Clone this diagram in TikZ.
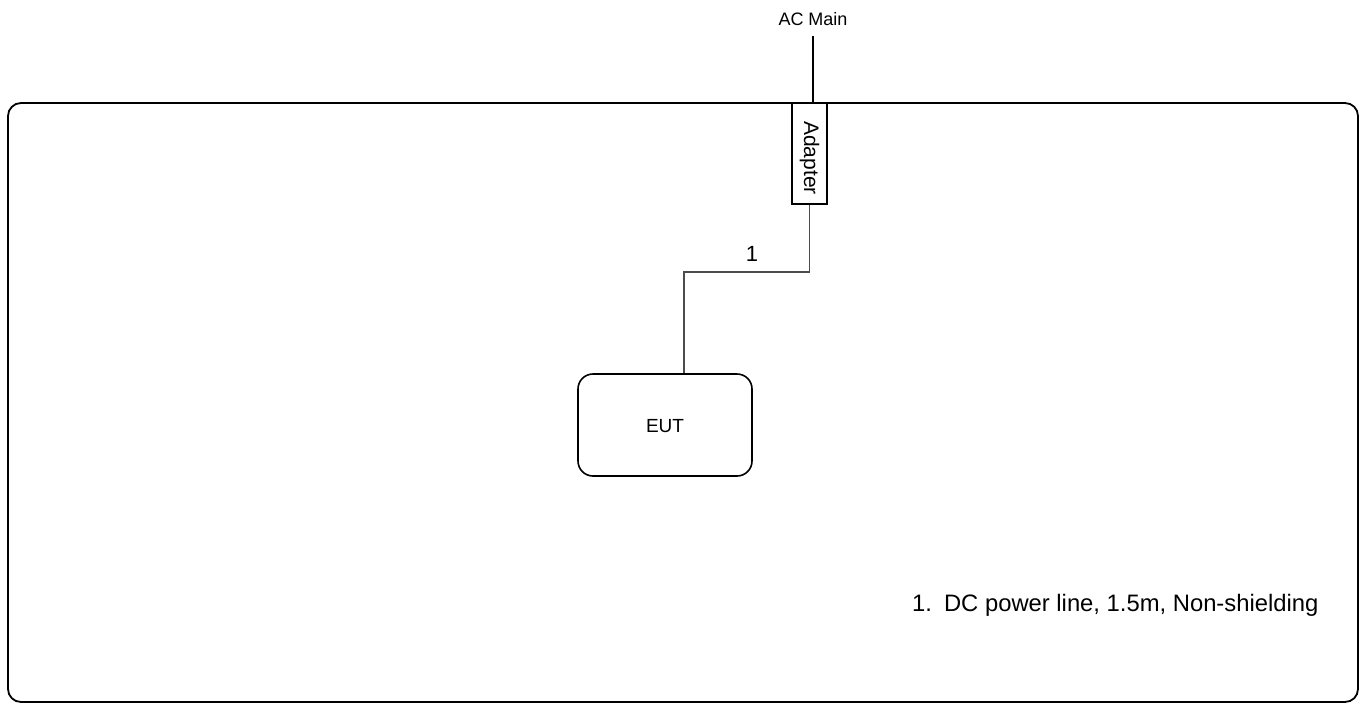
\documentclass[tikz,border=0pt]{standalone}
\usepackage{fontspec}
\setmainfont{Liberation Sans}
\begin{document}
\begin{tikzpicture}[x=1pt,y=-1pt,
  frame/.style={draw=black,line width=1.8pt,rounded corners=13pt},
  boxnode/.style={draw=black,line width=1.6pt,inner sep=0pt},
  eutbox/.style={draw=black,line width=1.6pt,rounded corners=15pt,inner sep=0pt,minimum width=174pt,minimum height=102pt},
  cable/.style={draw=black!70,line width=1.2pt},
  mainline/.style={draw=black,line width=1.8pt},
  lbl/.style={inner sep=0pt}]
\useasboundingbox (0,0) rectangle (1367,704);
\draw[frame] (8,103) rectangle (1358,702);
\node[boxnode,minimum width=35pt,minimum height=101pt] (adapter) at (809.5,153.5) {};
\node[lbl,rotate=-90,font=\fontsize{21}{25}\selectfont] (adtext) at (809.5,158) {Adapter};
\node[lbl,anchor=base,font=\fontsize{18}{22}\selectfont] (acmain) at (813,25) {AC Main};
\coordinate (acm) at (813,36);
\draw[mainline] (acm) -- (acm |- adapter.north);
\node[eutbox] (eut) at (665,425) {};
\node[lbl,anchor=base,font=\fontsize{19}{23}\selectfont] (euttext) at (665,432) {EUT};
\coordinate (c1) at (684,272);
\draw[cable] (adapter.south) |- (c1) -- (c1 |- eut.north);
\node[lbl,anchor=base,font=\fontsize{22}{26}\selectfont] (one) at (752,261) {1};
\node[lbl,anchor=base west,font=\fontsize{23.8}{28}\selectfont] (legend) at (912,611) {1.\hspace{12pt}DC power line, 1.5m, Non-shielding};
\end{tikzpicture}
\end{document}
